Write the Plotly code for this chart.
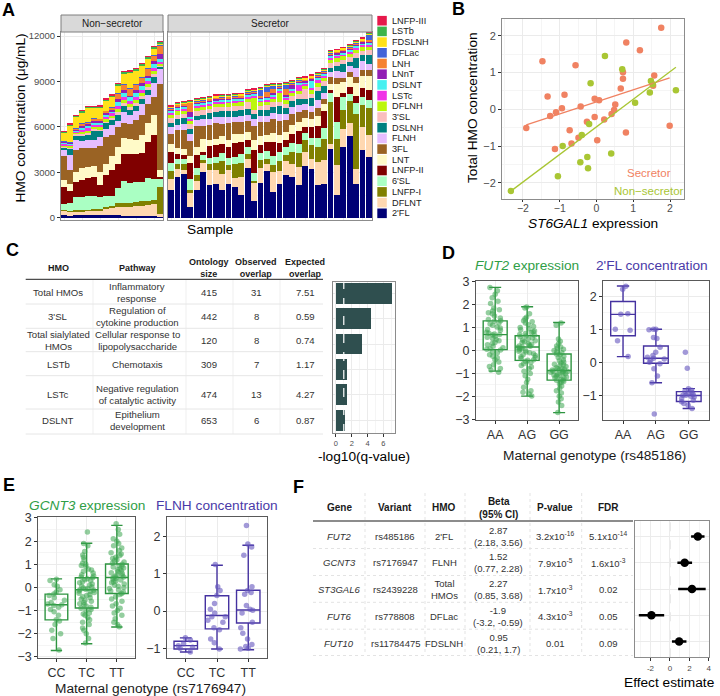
import numpy as np
import plotly.graph_objects as go

W, H = 720, 696
FONT = "Liberation Sans, Arial, sans-serif"

# ---------------- Panel A data ----------------
HMOS = ["2'FL", "DFLNT", "LNFP-I", "6'SL", "LNFP-II", "LNT", "3FL", "FLNH", "DSLNH", "3'SL",
        "DFLNH", "LSTc", "DSLNT", "LNnT", "LNH", "DFLac", "FDSLNH", "LSTb", "LNFP-III"]
HMO_COLORS = ["#000075", "#ffd8b1", "#808000", "#aaffc3", "#800000", "#fffac8", "#9a6324", "#e6beff",
              "#008080", "#fabebe", "#bcf60c", "#f032e6", "#46f0f0", "#911eb4", "#f58231", "#4363d8",
              "#ffe119", "#3cb44b", "#e6194b"]

ns_2FL = [150, 140, 150, 150, 150, 150, 150, 150, 150, 150, 140, 140, 140, 140, 130, 130, 20]
ns_DFLNT = [300, 250, 260, 280, 300, 320, 350, 450, 500, 550, 600, 600, 650, 650, 700, 750, 250]
ns_LNFPI = [80, 80, 70, 80, 90, 90, 100, 130, 150, 250, 200, 200, 250, 300, 300, 300, 1740]
ns_6SL = [350, 500, 860, 880, 900, 880, 750, 700, 650, 1000, 1500, 1350, 1300, 1300, 1500, 1400, 550]
ns_LNFPII = [1180, 770, 1030, 1100, 1200, 1250, 800, 1400, 1700, 1600, 1800, 1900, 1900, 1900, 2400, 2900, 100]
ns_LNT = [460, 480, 660, 770, 700, 720, 900, 700, 900, 1100, 1000, 1000, 900, 1200, 1250, 1300, 500]
ns_3FL = [1550, 950, 1430, 1320, 1250, 1200, 1700, 1800, 1420, 1310, 1000, 1000, 1300, 1300, 1200, 1200, 5700]
ns_FLNH = [420, 990, 660, 480, 550, 550, 600, 550, 650, 450, 750, 600, 600, 700, 600, 900, 950]
ns_DSLNH = [130, 400, 330, 330, 350, 550, 350, 350, 350, 400, 400, 350, 350, 350, 350, 400, 150]
ns_3SL = [100, 100, 100, 150, 150, 150, 150, 150, 150, 200, 200, 200, 200, 200, 200, 200, 100]
ns_DFLNH = [80, 80, 80, 120, 120, 120, 120, 120, 120, 200, 200, 200, 200, 200, 200, 200, 100]
ns_LSTc = [80, 80, 80, 150, 150, 150, 150, 150, 150, 200, 200, 200, 200, 200, 200, 200, 150]
ns_DSLNT = [80, 80, 80, 150, 150, 150, 150, 150, 150, 250, 250, 250, 250, 250, 250, 250, 150]
ns_LNnT = [50, 50, 50, 100, 100, 100, 100, 100, 100, 200, 200, 50, 200, 200, 50, 200, 350]
ns_LNH = [40, 40, 40, 150, 150, 150, 150, 150, 150, 350, 350, 500, 350, 350, 500, 350, 550]
ns_DFLac = [20, 20, 20, 30, 30, 30, 30, 30, 30, 50, 50, 50, 50, 50, 50, 50, 50]
ns_FDSLNH = [550, 1110, 770, 730, 910, 690, 740, 670, 700, 500, 690, 990, 910, 790, 640, 450, 100]
ns_LSTb = [60, 60, 60, 80, 80, 80, 80, 80, 80, 100, 100, 100, 100, 100, 100, 100, 100]
ns_LNFPIII = [20, 20, 20, 20, 20, 20, 20, 20, 20, 20, 20, 20, 20, 20, 20, 20, 20]

s_2FL = [1820, 2700, 2860, 730, 1800, 3030, 2150, 2240, 1820, 2260, 2020, 1500, 3300, 1100, 2300, 3080,
         1690, 2260, 2840, 2720, 2150, 3410, 3190, 2150, 2200, 4570, 1500, 4680, 5430, 2200, 4460, 4000]
s_DFLNT = [770, 500, 300, 920, 600, 600, 1000, 900, 1100, 900, 600, 1200, 600, 1200, 1000, 500,
           1300, 800, 900, 800, 1200, 900, 700, 1500, 1620, 300, 2000, 1200, 800, 1000, 1500, 1460]
s_LNFPI = [480, 350, 400, 150, 450, 150, 400, 450, 850, 350, 900, 900, 300, 150, 500, 300,
           500, 700, 400, 800, 900, 800, 900, 1000, 1400, 2750, 1700, 1260, 1470, 3670, 1500, 1800]
s_6SL = [550, 300, 300, 725, 450, 330, 400, 400, 500, 450, 500, 600, 450, 500, 500, 500,
         600, 600, 500, 600, 600, 500, 500, 600, 700, 600, 1100, 800, 500, 700, 500, 500]
s_LNFPII = [720, 350, 300, 1100, 840, 250, 800, 800, 600, 700, 900, 800, 500, 1500, 500, 600,
            900, 550, 500, 600, 900, 400, 700, 800, 1100, 200, 1700, 300, 400, 500, 600, 700]
s_LNT = [530, 400, 400, 440, 500, 850, 400, 440, 500, 500, 600, 550, 500, 650, 600, 500,
         600, 550, 500, 600, 600, 600, 500, 700, 500, 400, 810, 700, 700, 800, 780, 900]
s_3FL = [660, 1200, 1250, 1025, 1400, 840, 1000, 1000, 850, 1070, 800, 750, 750, 930, 900, 850,
         900, 900, 800, 700, 600, 500, 500, 500, 300, 500, 400, 300, 300, 400, 400, 400]
s_FLNH = [440, 350, 350, 450, 400, 450, 350, 400, 450, 450, 350, 450, 400, 500, 400, 400,
          400, 500, 400, 500, 500, 400, 400, 500, 400, 300, 500, 400, 400, 600, 600, 400]
s_DSLNH = [290, 350, 400, 350, 300, 300, 390, 350, 350, 350, 400, 350, 400, 300, 400, 400,
           450, 500, 400, 400, 400, 300, 500, 600, 500, 300, 300, 500, 300, 700, 400, 600]
s_3SL = [300, 300, 300, 300, 300, 300, 300, 300, 300, 300, 300, 300, 450, 300, 300, 300,
         300, 300, 300, 300, 300, 660, 300, 300, 300, 300, 300, 300, 300, 300, 300, 300]
s_DFLNH = [250, 250, 250, 250, 250, 250, 250, 250, 250, 250, 250, 250, 250, 800, 250, 250,
           250, 630, 250, 250, 250, 250, 250, 250, 250, 250, 250, 250, 250, 250, 250, 250]
s_LSTc = [120, 120, 120, 120, 120, 120, 120, 120, 120, 120, 120, 120, 120, 120, 120, 120,
          120, 120, 120, 120, 390, 120, 120, 240, 120, 120, 120, 120, 120, 120, 120, 120]
s_DSLNT = [120, 120, 120, 120, 120, 120, 120, 120, 120, 120, 120, 120, 120, 120, 120, 120,
           120, 120, 120, 120, 120, 120, 530, 120, 120, 120, 120, 120, 120, 120, 120, 120]
s_LNnT = [80, 80, 80, 300, 80, 80, 80, 80, 80, 80, 80, 80, 80, 80, 80, 80,
          80, 80, 80, 290, 80, 80, 80, 80, 80, 80, 80, 80, 80, 80, 80, 80]
s_LNH = [80, 80, 80, 600, 80, 80, 80, 80, 80, 80, 80, 80, 80, 80, 80, 300,
         300, 80, 400, 80, 80, 80, 80, 80, 80, 80, 80, 80, 80, 80, 80, 80]
s_DFLac = [40, 40, 40, 40, 40, 40, 40, 40, 40, 40, 40, 40, 40, 40, 410, 350,
           210, 40, 300, 40, 40, 40, 40, 40, 40, 40, 40, 40, 40, 40, 40, 400]
s_FDSLNH = [80, 80, 80, 80, 80, 80, 80, 80, 80, 80, 80, 80, 80, 80, 80, 80,
            80, 80, 80, 80, 80, 80, 80, 80, 80, 80, 80, 80, 80, 80, 80, 80]
s_LSTb = [40, 40, 40, 40, 40, 40, 40, 40, 40, 40, 40, 40, 40, 40, 40, 40,
          40, 40, 40, 40, 40, 40, 40, 40, 40, 40, 40, 40, 40, 40, 40, 40]
s_LNFPIII = [20, 20, 20, 20, 20, 20, 20, 20, 20, 20, 20, 20, 20, 20, 20, 20,
             20, 20, 20, 20, 20, 20, 20, 20, 20, 20, 20, 20, 20, 20, 20, 20]

NS_VALUES = [ns_2FL, ns_DFLNT, ns_LNFPI, ns_6SL, ns_LNFPII, ns_LNT, ns_3FL, ns_FLNH, ns_DSLNH, ns_3SL,
             ns_DFLNH, ns_LSTc, ns_DSLNT, ns_LNnT, ns_LNH, ns_DFLac, ns_FDSLNH, ns_LSTb, ns_LNFPIII]
S_VALUES = [s_2FL, s_DFLNT, s_LNFPI, s_6SL, s_LNFPII, s_LNT, s_3FL, s_FLNH, s_DSLNH, s_3SL,
            s_DFLNH, s_LSTc, s_DSLNT, s_LNnT, s_LNH, s_DFLac, s_FDSLNH, s_LSTb, s_LNFPIII]
ns_samples = ["N%d" % (i + 1) for i in range(len(ns_2FL))]
s_samples = ["S%d" % (i + 1) for i in range(len(s_2FL))]
A_YTICKS = [0, 3000, 6000, 9000, 12000]

# ---------------- Panel B data ----------------
b_sec_x = [-1.91, -1.47, -1.33, -1.26, -1.13, -1.10, -0.94, -0.87, -0.73, -0.68, -0.57, -0.49, -0.43, -0.26,
           -0.05, -0.05, 0.02, 0.07, 0.21, 0.41, 0.48, 0.51, 0.66, 0.72, 0.72, 0.80, 0.81, 1.18, 1.54, 1.57,
           1.76, 1.99]
b_sec_y = [-0.51, 1.31, 0.35, -0.18, -1.08, -0.08, 0.03, 0.40, -0.57, -0.93, 1.20, -0.77, 0.08, -0.34,
           -0.21, 0.29, -0.84, 0.25, -0.28, -0.13, -0.02, 0.13, 0.57, 0.83, 1.01, -0.63, 1.82, 1.61, 0.64, 0.92,
           2.22, -0.45]
b_non_x = [-2.33, -1.05, -0.92, -0.44, -0.40, -0.25, -0.23, -0.20, -0.16, 0.23, 0.40, 0.70, 1.05, 1.45,
           1.48, 1.53, 2.16]
b_non_y = [-2.22, -1.82, -1.00, -1.44, -0.70, -1.30, -1.60, -0.40, 0.71, 1.45, -1.20, 1.09, 0.18, 0.46,
           0.77, 0.68, 0.52]
B_TICKS = [-2, -1, 0, 1, 2]

# ---------------- Panel C data ----------------
C_HMO = ["Total HMOs", "3'SL", "Total sialylated<br>HMOs", "LSTb", "LSTc", "DSLNT"]
C_CATS = ["Total HMOs", "3'SL", "Total sialylated HMOs", "LSTb", "LSTc", "DSLNT"]
C_PATH = ["Inflammatory<br>response", "Regulation of<br>cytokine production",
          "Cellular response to<br>lipopolysaccharide", "Chemotaxis",
          "Negative regulation<br>of catalytic activity", "Epithelium<br>development"]
C_SIZE = ["415", "442", "120", "309", "474", "653"]
C_OBS = ["31", "8", "8", "7", "13", "6"]
C_EXP = ["7.51", "0.59", "0.74", "1.17", "4.27", "0.87"]
C_NLQ = [7.12, 4.42, 3.25, 1.43, 1.35, 1.12]
C_THRESHOLD = 1
C_XTICKS = [0, 2, 4, 6]

# ---------------- Panel D data ----------------
D_CATS = ["AA", "AG", "GG"]
d1_AA = [2.75, 2.6, 2.45, 2.3, 2.15, 2.05, 1.85, 1.78, 1.72, 1.65, 1.6, 1.5, 1.42, 1.35, 1.3, 1.28, 1.2, 1.15,
         1.1, 1.02, 0.98, 0.92, 0.88, 0.8, 0.75, 0.72, 0.7, 0.68, 0.62, 0.58, 0.52, 0.48, 0.42, 0.35, 0.3,
         0.25, 0.18, 0.12, 0.08, 0.05, 0.02, -0.05, -0.1, -0.18, -0.25, -0.32, -0.4, -0.5, -0.62, -0.7,
         -0.78, -0.85, -0.95]
d1_AG = [1.9, 1.85, 1.6, 1.45, 1.38, 1.3, 1.25, 1.2, 1.12, 1.05, 1.0, 0.95, 0.9, 0.85, 0.82, 0.78, 0.74, 0.7,
         0.66, 0.63, 0.6, 0.55, 0.5, 0.46, 0.42, 0.38, 0.35, 0.3, 0.27, 0.24, 0.2, 0.18, 0.15, 0.13, 0.1,
         0.06, 0.03, 0.0, -0.03, -0.07, -0.1, -0.14, -0.18, -0.22, -0.27, -0.3, -0.35, -0.4, -0.43, -0.47,
         -0.52, -0.58, -0.65, -0.72, -0.8, -0.9, -1.0, -1.1, -1.25, -1.4, -1.6, -1.75, -1.82, -1.9, -1.98]
d1_GG = [1.2, 1.1, 0.5, 0.4, 0.3, 0.2, 0.15, 0.1, 0.05, 0.0, -0.05, -0.1, -0.15, -0.2, -0.25, -0.3, -0.4,
         -0.45, -0.5, -0.55, -0.6, -0.62, -0.65, -0.7, -0.75, -0.78, -0.8, -0.82, -0.85, -0.87, -0.9, -0.9,
         -0.92, -0.95, -0.95, -1.0, -1.0, -1.03, -1.07, -1.1, -1.1, -1.15, -1.2, -1.2, -1.25, -1.3, -1.3,
         -1.35, -1.4, -1.45, -1.55, -1.65, -1.75, -1.85, -2.0, -2.1, -2.25, -2.4, -2.7]
d1_q1 = [0.04, -0.43, -1.29]
d1_med = [0.69, 0.15, -0.87]
d1_q3 = [1.29, 0.64, -0.15]
d1_lo = [-0.90, -1.99, -2.71]
d1_hi = [2.75, 1.91, 1.22]

d2_AA = [2.30, 2.21, 1.47, 1.45, 1.00, 0.97, 0.65, 0.17]
d2_AG = [1.0, 1.0, 0.98, 0.75, 0.72, 0.45, 0.3, 0.2, 0.15, 0.12, 0.1, 0.05, 0.0, -0.05, -0.2, -0.42,
         -0.62, -1.57]
d2_GG = [0.3, -0.18, -0.8, -0.85, -0.88, -0.92, -0.95, -0.98, -1.0, -1.0, -1.03, -1.05, -1.1, -1.15,
         -1.2, -1.25, -1.3, -1.4]
d2_q1 = [0.80, -0.03, -1.19]
d2_med = [1.45, 0.12, -1.01]
d2_q3 = [1.84, 0.49, -0.89]
d2_lo = [0.17, -0.62, -1.40]
d2_hi = [2.31, 1.00, -0.80]

# ---------------- Panel E data ----------------
E_CATS = ["CC", "TC", "TT"]
e1_CC = [0.35, 0.3, 0.12, 0.05, -0.1, -0.2, -0.28, -0.35, -0.45, -0.55, -0.65, -0.72, -0.75, -0.78,
         -0.85, -0.95, -1.05, -1.2, -1.4, -1.45, -1.6, -1.85, -2.0, -2.2, -2.7]
e1_TC = [2.4, 1.9, 1.8, 1.55, 1.4, 1.3, 1.2, 1.05, 1.0, 0.95, 0.9, 0.8, 0.75, 0.7, 0.62, 0.55, 0.5, 0.45,
         0.42, 0.38, 0.33, 0.3, 0.25, 0.2, 0.15, 0.1, 0.05, 0.02, -0.02, -0.05, -0.08, -0.1, -0.12, -0.15,
         -0.18, -0.22, -0.25, -0.3, -0.35, -0.4, -0.45, -0.5, -0.55, -0.6, -0.65, -0.7, -0.75, -0.8, -0.85,
         -0.9, -0.95, -1.0, -1.1, -1.15, -1.2, -1.3, -1.4, -1.5, -1.6, -1.75, -1.85, -2.0, -2.2, -2.4]
e1_TT = [2.75, 2.5, 2.3, 2.1, 2.0, 1.9, 1.8, 1.7, 1.6, 1.5, 1.45, 1.38, 1.3, 1.25, 1.2, 1.15, 1.1, 1.05,
         1.0, 0.95, 0.92, 0.88, 0.84, 0.8, 0.76, 0.72, 0.68, 0.64, 0.6, 0.56, 0.52, 0.48, 0.45, 0.43, 0.4,
         0.36, 0.32, 0.28, 0.24, 0.2, 0.15, 0.1, 0.05, 0.0, -0.05, -0.1, -0.15, -0.2, -0.26, -0.3, -0.4,
         -0.5, -0.6, -0.7, -0.8, -0.9, -1.0, -1.1, -1.2, -1.35, -1.5, -1.6, -1.7]
e1_q1 = [-1.40, -0.89, -0.26]
e1_med = [-0.75, -0.10, 0.43]
e1_q3 = [-0.29, 0.42, 1.01]
e1_lo = [-2.72, -2.43, -1.71]
e1_hi = [0.37, 1.91, 2.68]

e2_CC = [-0.72, -0.78, -0.88, -0.93, -0.97, -1.0, -1.1]
e2_TC = [1.25, 0.65, 0.55, 0.42, 0.2, 0.05, -0.05, -0.15, -0.15, -0.25, -0.3, -0.45, -0.5, -0.75, -0.85,
         -1.02]
e2_TT = [2.3, 1.8, 1.72, 1.5, 0.65, 0.55, 0.5, 0.45, 0.15, 0.05, 0.02, -0.05, -0.3, -0.45, -0.6, -0.75,
         -0.9, -0.95, -1.02, -1.0]
e2_q1 = [-1.02, -0.48, -0.32]
e2_med = [-0.93, -0.12, 0.03]
e2_q3 = [-0.81, 0.41, 0.56]
e2_lo = [-1.10, -1.02, -1.04]
e2_hi = [-0.72, 1.23, 1.77]

# ---------------- Panel F data ----------------
F_GENES = ["FUT2", "GCNT3", "ST3GAL6", "FUT6", "FUT10"]
F_VARIANTS = ["rs485186", "rs7176947", "rs2439228", "rs778808", "rs11784475"]
F_HMOS = ["2'FL", "FLNH", "Total<br>HMOs", "DFLac", "FDSLNH"]
F_BETA = [2.87, 1.52, 2.27, -1.9, 0.95]
F_LO = [2.18, 0.77, 0.85, -3.2, 0.21]
F_HI = [3.56, 2.28, 3.68, -0.59, 1.7]
F_P = ["3.2x10<sup>-16</sup>", "7.9x10<sup>-5</sup>", "1.7x10<sup>-3</sup>", "4.3x10<sup>-3</sup>", "0.01"]
F_FDR = ["5.1x10<sup>-14</sup>", "1.6x10<sup>-3</sup>", "0.02", "0.05", "0.09"]
F_XTICKS = [-2, 0, 2, 4]

# ================= helpers =================
def xd(a, b):
    return [a / W, b / W]


def yd(a, b):
    return [1 - b / H, 1 - a / H]


def px(x):
    return x / W


def py(y):
    return 1 - y / H


annotations = []
shapes = []


def T(x, y, text, size=9.0, color="#1a1a1a", bold=False, xanchor="center", yanchor="middle", angle=0):
    if bold:
        text = "<b>%s</b>" % text.replace("<br>", "</b><br><b>")
    annotations.append(dict(x=px(x), y=py(y), xref="paper", yref="paper", text=text, showarrow=False,
                            font=dict(family=FONT, size=size, color=color), xanchor=xanchor,
                            yanchor=yanchor, textangle=angle, align="center", borderpad=0))


def L(x0, y0, x1, y1, color, width=1.0, dash=None):
    shapes.append(dict(type="line", xref="paper", yref="paper", x0=px(x0), y0=py(y0), x1=px(x1),
                       y1=py(y1), line=dict(color=color, width=width, dash=dash)))


def R(x0, y0, x1, y1, fill, line=None, lw=0):
    shapes.append(dict(type="rect", xref="paper", yref="paper", x0=px(x0), y0=py(y0), x1=px(x1),
                       y1=py(y1), fillcolor=fill, line=dict(color=line or fill, width=lw)))


GRID = "#ebebeb"
MINOR = "#f5f5f5"


def axis(domain, anchor, border="#8c8c8c", tsize=9.5, tcolor="#4d4d4d", **kw):
    d = dict(domain=domain, anchor=anchor, showline=True, mirror=True, linecolor=border, linewidth=1,
             zeroline=False, showgrid=True, gridcolor=GRID, gridwidth=1, ticks="outside", ticklen=3,
             tickcolor="#333333", tickwidth=1,
             tickfont=dict(family=FONT, size=tsize, color=tcolor))
    d.update(kw)
    return d


fig = go.Figure()

# ================= Panel A =================
for name, col, nsv, sv in zip(HMOS, HMO_COLORS, NS_VALUES, S_VALUES):
    fig.add_trace(go.Bar(x=ns_samples, y=nsv, name=name, width=0.9, marker=dict(color=col, line_width=0),
                         xaxis="x", yaxis="y", showlegend=False))
    fig.add_trace(go.Bar(x=s_samples, y=sv, name=name, width=0.9, marker=dict(color=col, line_width=0),
                         xaxis="x2", yaxis="y2", showlegend=False))

# facet strips
R(61, 15, 163, 32, "#d9d9d9", "#7f7f7f", 1)
R(168, 15, 372, 32, "#d9d9d9", "#7f7f7f", 1)
T(112, 23.5, "Non\u2212secretor", size=10, color="#1a1a1a")
T(270, 23.5, "Secretor", size=10, color="#1a1a1a")
T(20.5, 118, "HMO concentration (\u03bcg/mL)", size=13.7, color="#000", angle=-90)
T(210, 229, "Sample", size=13.7, color="#000")

# manual legend (top -> bottom)
for i, (name, col) in enumerate(zip(HMOS[::-1], HMO_COLORS[::-1])):
    yc = 20.7 + 10.7 * i
    R(377.3, yc - 4.8, 386.8, yc + 4.8, col)
    T(391, yc, name, size=9.2, color="#1a1a1a", xanchor="left")

# ================= Panel B =================
SEC_COL = "#F08262"
NON_COL = "#A9C634"
fig.add_trace(go.Scatter(x=b_sec_x, y=b_sec_y, mode="markers", marker=dict(color=SEC_COL, size=6.5),
                         xaxis="x3", yaxis="y3", showlegend=False))
fig.add_trace(go.Scatter(x=b_non_x, y=b_non_y, mode="markers", marker=dict(color=NON_COL, size=6.5),
                         xaxis="x3", yaxis="y3", showlegend=False))
for xs, ys, col in [(b_sec_x, b_sec_y, SEC_COL), (b_non_x, b_non_y, NON_COL)]:
    k, b0 = np.polyfit(xs, ys, 1)
    lx = [min(xs), max(xs)]
    fig.add_trace(go.Scatter(x=lx, y=[k * v + b0 for v in lx], mode="lines", line=dict(color=col, width=1.3),
                             xaxis="x3", yaxis="y3", showlegend=False))
T(649, 173.3, "Secretor", size=11.5, color=SEC_COL)
T(649, 190.7, "Non\u2212secretor", size=11.5, color=NON_COL)
T(473, 108, "Total HMO concentration", size=13.7, color="#000", angle=-90)
T(593, 223, "<i>ST6GAL1</i> expression", size=13.7, color="#000")

# ================= Panel C =================
fig.add_trace(go.Bar(x=C_NLQ, y=C_CATS, orientation="h", width=0.82, marker=dict(color="#2F4F4F", line_width=0),
                     xaxis="x4", yaxis="y4", showlegend=False))
shapes.append(dict(type="line", xref="x4", yref="y4 domain", x0=C_THRESHOLD, x1=C_THRESHOLD, y0=0, y1=1,
                   line=dict(color="white", width=1.2, dash="dash"), layer="above"))
c_cols = [58, 137, 209, 256, 305]
c_rows = [292.3, 316.7, 340.3, 364.0, 394.0, 420.7]
c_seps = [304, 328.3, 351.7, 375.7, 409, 434]
for xs in [93, 186, 233, 280]:
    L(xs, 280, xs, 434, "#efefef", 1)
for ys in c_seps:
    L(25.7, ys, 323, ys, "#e6e6e6", 1)
L(25.7, 279.3, 323, 279.3, "#4d4d4d", 1.3)
T(c_cols[0], 268.3, "HMO", size=9, bold=True)
T(c_cols[1], 268.3, "Pathway", size=9, bold=True)
T(c_cols[2], 267.8, "Ontology<br>size", size=9, bold=True)
T(c_cols[3], 267.8, "Observed<br>overlap", size=9, bold=True)
T(c_cols[4], 267.8, "Expected<br>overlap", size=9, bold=True)
for i in range(6):
    for j, col in enumerate([C_HMO, C_PATH, C_SIZE, C_OBS, C_EXP]):
        T(c_cols[j], c_rows[i], col[i], size=9.6, color="#333333")
T(364, 456.7, "-log10(q-value)", size=13.7, color="#000")

# ================= Panel D & E boxes =================
GREEN_LINE = "#2E9440"
GREEN_PT = "rgba(60,165,80,0.55)"
PURPLE_LINE = "#4532A0"
PURPLE_PT = "rgba(100,85,190,0.6)"


def add_box(cats, q1, med, q3, lo, hi, groups, xa, ya, lcol, pcol):
    fig.add_trace(go.Box(x=cats, q1=q1, median=med, q3=q3, lowerfence=lo, upperfence=hi, width=0.75,
                         boxpoints=False, line=dict(color=lcol, width=1.4), fillcolor="rgba(255,255,255,0)",
                         xaxis=xa, yaxis=ya, showlegend=False, hoverinfo="skip"))
    xs, ys = [], []
    for c, g in zip(cats, groups):
        xs += [c] * len(g)
        ys += g
    fig.add_trace(go.Box(x=xs, y=ys, width=0.75, boxpoints="all", jitter=0.8, pointpos=0,
                         line=dict(color="rgba(0,0,0,0)", width=0), fillcolor="rgba(0,0,0,0)",
                         marker=dict(color=pcol, size=5.5, line=dict(width=0)),
                         xaxis=xa, yaxis=ya, showlegend=False))


add_box(D_CATS, d1_q1, d1_med, d1_q3, d1_lo, d1_hi, [d1_AA, d1_AG, d1_GG], "x5", "y5", GREEN_LINE, GREEN_PT)
add_box(D_CATS, d2_q1, d2_med, d2_q3, d2_lo, d2_hi, [d2_AA, d2_AG, d2_GG], "x6", "y6", PURPLE_LINE, PURPLE_PT)
add_box(E_CATS, e1_q1, e1_med, e1_q3, e1_lo, e1_hi, [e1_CC, e1_TC, e1_TT], "x7", "y7", GREEN_LINE, GREEN_PT)
add_box(E_CATS, e2_q1, e2_med, e2_q3, e2_lo, e2_hi, [e2_CC, e2_TC, e2_TT], "x8", "y8", PURPLE_LINE, PURPLE_PT)

TITLE_GREEN = "#2F9E46"
TITLE_PURPLE = "#4A3AA8"
T(527, 265.7, "<i>FUT2</i> expression", size=13.7, color=TITLE_GREEN)
T(652, 265.7, "2'FL concentration", size=13.7, color=TITLE_PURPLE)
T(594, 455, "Maternal genotype (rs485186)", size=13.7, color="#1a1a1a")
T(87, 505, "<i>GCNT3</i> expression", size=13.7, color=TITLE_GREEN)
T(217, 505, "FLNH concentration", size=13.7, color=TITLE_PURPLE)
T(150, 688, "Maternal genotype (rs7176947)", size=13.7, color="#1a1a1a")

# ================= Panel F =================
fig.add_trace(go.Scatter(x=F_BETA, y=F_GENES, mode="markers",
                         marker=dict(color="black", size=8.5),
                         error_x=dict(type="data", symmetric=False,
                                      array=[h - b for h, b in zip(F_HI, F_BETA)],
                                      arrayminus=[b - l for b, l in zip(F_BETA, F_LO)],
                                      thickness=2.6, width=0, color="black"),
                         xaxis="x9", yaxis="y9", showlegend=False))
shapes.append(dict(type="line", xref="x9", yref="y9 domain", x0=0, x1=0, y0=0, y1=1,
                   line=dict(color="#c8c8c8", width=1, dash="dash"), layer="below"))
f_cols = [339, 395, 444.3, 498.3, 555, 608.3]
f_rows = [536, 562.8, 589.6, 616.4, 643.2]
for xs in [365, 425, 465, 530, 581.7]:
    L(xs, 493, xs, 655, "#e3e3e3", 1, "dot")
for ys in [548.5, 575.5, 602.3, 629.2, 655.5]:
    L(313, ys, 633, ys, "#e3e3e3", 1, "dot")
L(313, 521, 633, 521, "#666666", 1.3)
T(f_cols[0], 507, "Gene", size=10, bold=True)
T(f_cols[1], 507, "Variant", size=10, bold=True)
T(f_cols[2], 507, "HMO", size=10, bold=True)
T(f_cols[3], 507.5, "Beta<br>(95% CI)", size=10, bold=True)
T(f_cols[4], 507, "P-value", size=10, bold=True)
T(f_cols[5], 507, "FDR", size=10, bold=True)
for i in range(5):
    T(f_cols[0], f_rows[i], "<i>%s</i>" % F_GENES[i], size=9.5, color="#333333")
    T(f_cols[1], f_rows[i], F_VARIANTS[i], size=9.5, color="#333333")
    T(f_cols[2], f_rows[i], F_HMOS[i], size=9.5, color="#333333")
    T(f_cols[3], f_rows[i], "%s<br>(%s, %s)" % (F_BETA[i], F_LO[i], F_HI[i]), size=9.5, color="#333333")
    T(f_cols[4], f_rows[i], F_P[i], size=9.5, color="#333333")
    T(f_cols[5], f_rows[i], F_FDR[i], size=9.5, color="#333333")
T(669, 682, "Effect estimate", size=13.7, color="#000")

# panel letters
for lab, x, y in [("A", 8, 10), ("B", 458, 9), ("C", 12, 250), ("D", 448, 253), ("E", 9, 485), ("F", 298, 487)]:
    T(x, y, "<b>%s</b>" % lab, size=18, color="#000")

# ================= layout =================
DARK = "#595959"
layout_axes = dict(
    xaxis=axis(xd(61, 163), "y", type="category", categoryorder="array", categoryarray=ns_samples,
               range=[-0.5, len(ns_samples) - 0.5], showticklabels=False, ticks=""),
    yaxis=axis(yd(32, 220), "x", range=[-150, 12264], tickvals=A_YTICKS, tickformat="d",
               minor=dict(showgrid=True, gridcolor=MINOR, dtick=1500)),
    xaxis2=axis(xd(168, 372), "y2", type="category", categoryorder="array", categoryarray=s_samples,
                range=[-0.5, len(s_samples) - 0.5], showticklabels=False, ticks=""),
    yaxis2=axis(yd(32, 220), "x2", range=[-150, 12264], tickvals=A_YTICKS, showticklabels=False, ticks="",
                minor=dict(showgrid=True, gridcolor=MINOR, dtick=1500)),
    xaxis3=axis(xd(502, 684), "y3", range=[-2.57, 2.38], tickvals=B_TICKS, tsize=10.5, ticklen=2,
                ticklabelstandoff=-3,
                minor=dict(showgrid=True, gridcolor=MINOR, dtick=0.5)),
    yaxis3=axis(yd(19.3, 199), "x3", range=[-2.44, 2.45], tickvals=B_TICKS, tsize=11,
                minor=dict(showgrid=True, gridcolor=MINOR, dtick=0.5)),
    xaxis4=axis(xd(333, 395), "y4", range=[-0.36, 7.46], tickvals=C_XTICKS, tsize=7.5,
                minor=dict(showgrid=True, gridcolor=MINOR, dtick=1)),
    yaxis4=axis(yd(281.7, 433), "x4", type="category", categoryorder="array", categoryarray=C_CATS,
                range=[5.5, -0.45], showticklabels=False, ticks=""),
    xaxis5=axis(xd(476, 578.3), "y5", border=DARK, type="category", categoryorder="array",
                categoryarray=D_CATS, range=[-0.6, 2.6], tsize=12.5, tcolor="#333333"),
    yaxis5=axis(yd(281, 420), "x5", border=DARK, range=[-3.03, 3.03], dtick=1, tsize=12.5, tcolor="#333333",
                minor=dict(showgrid=True, gridcolor=MINOR, dtick=0.5)),
    xaxis6=axis(xd(603.3, 708.5), "y6", border=DARK, type="category", categoryorder="array",
                categoryarray=D_CATS, range=[-0.6, 2.6], tsize=12.5, tcolor="#333333"),
    yaxis6=axis(yd(281, 420), "x6", border=DARK, range=[-1.75, 2.46], dtick=1, tsize=12.5, tcolor="#333333",
                minor=dict(showgrid=True, gridcolor=MINOR, dtick=0.5)),
    xaxis7=axis(xd(38.3, 135), "y7", border=DARK, type="category", categoryorder="array",
                categoryarray=E_CATS, range=[-0.6, 2.6], tsize=12.5, tcolor="#333333"),
    yaxis7=axis(yd(517.3, 658.3), "x7", border=DARK, range=[-3.06, 3.03], dtick=1, tsize=12.5,
                tcolor="#333333", minor=dict(showgrid=True, gridcolor=MINOR, dtick=0.5)),
    xaxis8=axis(xd(167, 267), "y8", border=DARK, type="category", categoryorder="array",
                categoryarray=E_CATS, range=[-0.6, 2.6], tsize=12.5, tcolor="#333333"),
    yaxis8=axis(yd(517.3, 658.3), "x8", border=DARK, range=[-1.27, 2.52], dtick=1, tsize=12.5,
                tcolor="#333333", minor=dict(showgrid=True, gridcolor=MINOR, dtick=0.5)),
    xaxis9=axis(xd(635.3, 709), "y9", range=[-3.56, 4.02], tickvals=F_XTICKS,
                ticktext=[str(v) for v in F_XTICKS], tsize=8,
                minor=dict(showgrid=True, gridcolor=MINOR, dtick=1)),
    yaxis9=axis(yd(520.7, 657.3), "x9", type="category", categoryorder="array", categoryarray=F_GENES,
                range=[4.6, -0.6], showticklabels=False, ticks=""),
)

fig.update_layout(
    width=W, height=H, margin=dict(l=0, r=0, t=0, b=0, pad=0),
    paper_bgcolor="white", plot_bgcolor="white", template="none",
    barmode="stack", boxmode="overlay", showlegend=False,
    font=dict(family=FONT, size=10, color="#1a1a1a"),
    annotations=annotations, shapes=shapes,
    **layout_axes,
)

fig.write_html("out.html", config={"displayModeBar": False},
               post_script="document.body.style.margin='0px';document.body.style.overflow='hidden';")
